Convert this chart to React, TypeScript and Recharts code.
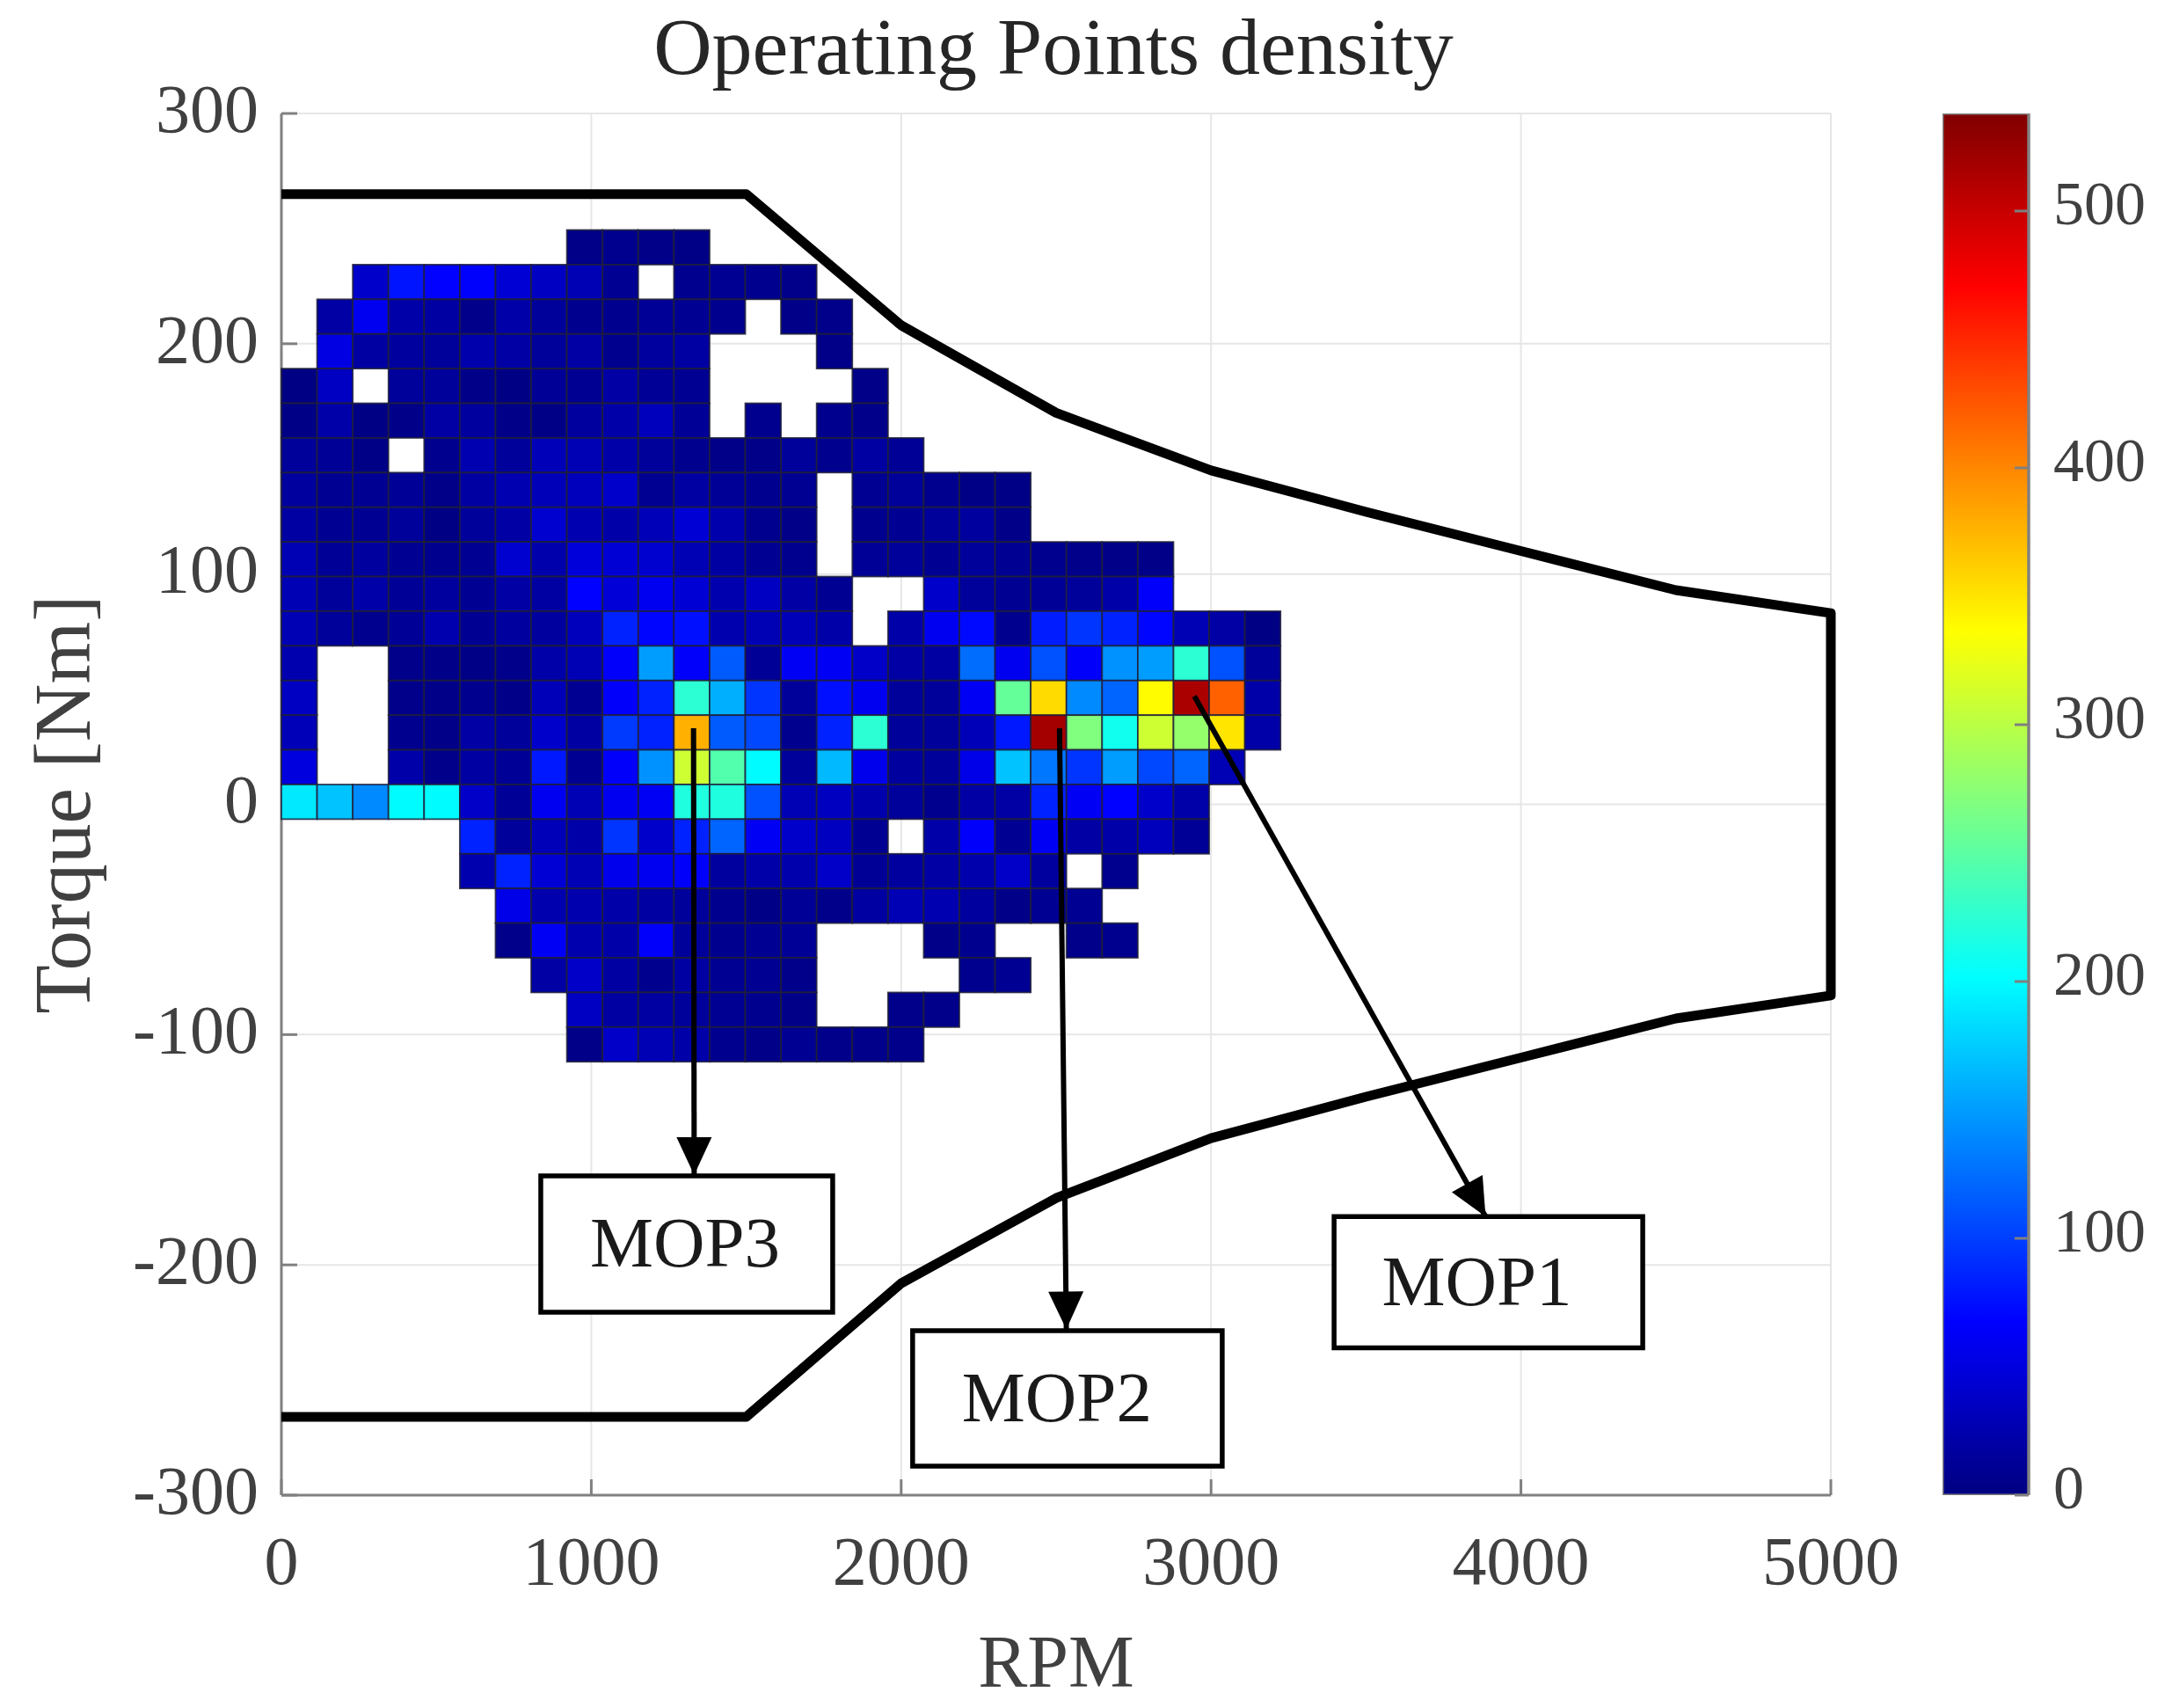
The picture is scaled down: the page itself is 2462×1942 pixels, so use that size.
import React from 'react';
import { ComposedChart, Scatter, Line, Bar, XAxis, YAxis, CartesianGrid, ReferenceArea } from 'recharts';

const _ = null;
const row00 = [_,_,_,_,_,_,_,_,5,8,5,4];
const row01 = [_,_,40,78,68,66,45,35,28,10,_,8,10,8,6];
const row02 = [_,20,60,22,18,6,22,14,8,8,12,10,8,_,5,6];
const row03 = [_,52,18,16,14,24,20,14,20,8,16,18,_,_,_,5];
const row04 = [3,35,_,14,14,5,3,12,10,20,12,10,_,_,_,_,5];
const row05 = [4,22,3,5,20,16,5,4,16,22,32,12,_,8,_,8,6];
const row06 = [14,12,4,_,8,26,14,30,28,22,14,8,5,5,14,8,18,12];
const row07 = [16,10,10,12,5,18,26,30,32,40,10,18,12,8,10,_,10,14,8,4,4];
const row08 = [18,10,10,14,3,14,20,42,26,22,30,45,24,8,5,_,8,10,14,16,5];
const row09 = [28,12,16,10,8,10,42,24,48,45,42,28,18,10,8,_,12,14,10,14,10,8,6,5,5];
const row10 = [28,14,22,12,16,10,20,18,68,46,60,45,25,35,20,10,_,_,40,14,10,12,14,22,65];
const row11 = [28,14,8,12,25,10,16,16,32,85,70,75,25,28,30,22,_,22,60,72,8,82,95,85,70,28,20,3];
const row12 = [25,_,_,6,5,4,6,22,28,65,150,65,115,12,62,62,38,20,18,125,60,110,65,145,150,225,110,14];
const row13 = [35,_,_,6,5,8,5,30,10,65,85,225,160,95,14,75,60,14,14,62,255,355,140,120,338,515,420,22];
const row14 = [30,_,_,8,5,20,14,40,18,98,85,378,115,105,8,85,225,14,14,30,80,518,270,210,310,280,350,22];
const row15 = [50,_,_,22,6,18,12,80,10,65,145,310,245,200,14,165,58,16,14,55,170,130,95,150,105,120,28];
const row16 = [190,170,140,200,200,38,12,60,28,60,62,218,218,110,28,34,24,14,8,20,20,85,62,68,40,22];
const row17 = [_,_,_,_,_,85,14,30,22,95,40,85,120,62,40,34,10,_,22,65,10,62,20,22,32,12];
const row18 = [_,_,_,_,_,25,85,45,28,58,60,65,16,22,24,38,12,16,20,24,38,16,_,8];
const row19 = [_,_,_,_,_,_,55,25,25,22,18,14,8,4,12,6,18,28,26,16,5,10,10];
const row20 = [_,_,_,_,_,_,6,62,25,22,65,14,8,10,12,_,_,_,5,8,_,_,6,8];
const row21 = [_,_,_,_,_,_,_,20,38,18,8,18,10,10,6,_,_,_,_,8,10];
const row22 = [_,_,_,_,_,_,_,_,35,18,18,14,10,8,5,_,_,6,6];
const row23 = [_,_,_,_,_,_,_,_,5,38,28,22,8,5,10,6,6,6];
const densityRows = [row00,row01,row02,row03,row04,row05,row06,row07,row08,row09,row10,row11,row12,row13,row14,row15,row16,row17,row18,row19,row20,row21,row22,row23];

const binRpm = 115.15;
const binNm = 15.05;
const firstTopNm = 249.4;
const colorMax = 538;

const envelopeRpm = [0,1500,2000,2500,3000,3500,4000,4500,5000,5000,4500,4000,3500,3000,2500,2000,1500,0];
const envelopeNm = [265,265,208,170,145,127,110,93,83,-83,-93,-110,-127,-145,-171,-208,-266,-266];

const rpmTicks = [0,1000,2000,3000,4000,5000];
const nmTicks = [-300,-200,-100,0,100,200,300];
const colorTicks = [0,100,200,300,400,500];

const arrows = [
  [{ x: 2946, y: 47 }, { x: 3886, y: -179 }],
  [{ x: 2511, y: 33 }, { x: 2533, y: -228 }],
  [{ x: 1330, y: 33 }, { x: 1332, y: -161 }],
];
const boxes = [
  { name: 'MOP1', x1: 3397, x2: 4393, y1: -236, y2: -179, dx: -13 },
  { name: 'MOP2', x1: 2037, x2: 3036, y1: -287.4, y2: -228.6, dx: -12 },
  { name: 'MOP3', x1: 837, x2: 1779, y1: -220.6, y2: -161.4, dx: -2 },
];

const W = 2462, H = 1942, LEFT = 320, RIGHT = 2082, TOP = 129, BOTTOM = 1700;
const pxX = (RIGHT - LEFT) / 5000;
const pxY = (BOTTOM - TOP) / 600;
const SERIF = '"Liberation Serif", serif';
const X_TICK = { fontFamily: SERIF, fontSize: 78, fill: '#404040' };
const Y_TICK = { fontFamily: SERIF, fontSize: 78, fill: '#404040', dy: -7 };
const BAR_TICK = { fontFamily: SERIF, fontSize: 70, fill: '#404040', dy: -10 };
const AXIS = '#808080';
const noLabel = () => '';

function jet(v: number) {
  const t = Math.max(0, Math.min(1, v / colorMax));
  const f = (x: number) => Math.round(255 * Math.max(0, Math.min(1, x)));
  const r = f(Math.min(4 * t - 1.5, -4 * t + 4.5));
  const g = f(Math.min(4 * t - 0.5, -4 * t + 3.5));
  const b = f(Math.min(4 * t + 0.5, -4 * t + 2.5));
  return `rgb(${r},${g},${b})`;
}

const cells = densityRows.flatMap((row, r) =>
  row.flatMap((value, c) =>
    value === null ? [] : [{ x: (c + 0.5) * binRpm, y: firstTopNm - (r + 0.5) * binNm, value }]
  )
);
const envelope = envelopeRpm.map((x, i) => ({ x, y: envelopeNm[i] }));
const jetStops = Array.from({ length: 33 }, (_v, i) => i / 32);

function CellShape(props: any) {
  const w = binRpm * pxX;
  const h = binNm * pxY;
  return (
    <rect x={props.cx - w / 2} y={props.cy - h / 2} width={w} height={h}
      fill={jet(props.payload.value)} stroke="#20203a" strokeWidth={1.8} strokeOpacity={0.85} />
  );
}

function ArrowHead(props: any) {
  if (props.index !== 1) return <g key={props.index} />;
  const a = props.points[0];
  const b = props.points[1];
  const ang = (Math.atan2(b.y - a.y, b.x - a.x) * 180) / Math.PI;
  return (
    <polygon key={props.index} points="0,0 -43,-20 -43,20" fill="#000"
      transform={`translate(${b.x},${b.y}) rotate(${ang})`} />
  );
}

export default function App() {
  return (
    <div style={{ position: 'absolute', left: 0, top: 0, width: W, height: H, background: '#fff' }}>
      <div style={{ position: 'absolute', left: 0, top: 0 }}>
        <ComposedChart width={W} height={H} margin={{ top: TOP, left: 0, right: W - RIGHT, bottom: 0 }}>
          <XAxis xAxisId="b" dataKey="x" type="number" domain={[0, 5000]} ticks={rpmTicks}
            height={H - BOTTOM} tickSize={-18} tickMargin={64} tick={X_TICK} stroke={AXIS} strokeWidth={3} interval={0}
            label={{ value: 'RPM', position: 'insideBottom', offset: 24, style: { fontFamily: SERIF, fontSize: 84, fill: '#404040' } }} />
          <XAxis xAxisId="t" dataKey="x" orientation="top" type="number" domain={[0, 5000]} ticks={rpmTicks}
            height={0} tickSize={-18} tickFormatter={noLabel} stroke={AXIS} strokeWidth={3} interval={0} />
          <YAxis yAxisId="l" dataKey="y" type="number" domain={[-300, 300]} ticks={nmTicks}
            width={LEFT} tickSize={-18} tickMargin={44} tick={Y_TICK} stroke={AXIS} strokeWidth={3} interval={0}
            label={{ value: 'Torque [Nm]', angle: -90, position: 'insideLeft', offset: 70, style: { textAnchor: 'middle', fontFamily: SERIF, fontSize: 91, fill: '#404040' } }} />
          <YAxis yAxisId="r" dataKey="y" orientation="right" type="number" domain={[-300, 300]} ticks={nmTicks}
            width={0} tickSize={-18} tickFormatter={noLabel} stroke={AXIS} strokeWidth={3} interval={0} />
          <CartesianGrid xAxisId="b" yAxisId="l" stroke="#e6e6e6" strokeWidth={2} />
          <Scatter xAxisId="b" yAxisId="l" data={cells} dataKey="y" shape={CellShape} isAnimationActive={false} />
          <Line xAxisId="b" yAxisId="l" data={envelope} dataKey="y" type="linear" stroke="#000" strokeWidth={11}
            dot={false} activeDot={false} isAnimationActive={false} strokeLinejoin="round" zIndex={700} />
          {arrows.map((pts, i) => (
            <Line key={i} xAxisId="b" yAxisId="l" data={pts} dataKey="y" type="linear" stroke="#000" strokeWidth={6}
              dot={ArrowHead} activeDot={false} isAnimationActive={false} zIndex={700} />
          ))}
          {boxes.map((b) => (
            <ReferenceArea key={b.name} xAxisId="b" yAxisId="l" x1={b.x1} x2={b.x2} y1={b.y1} y2={b.y2}
              fill="#fff" fillOpacity={1} stroke="#000" strokeWidth={5.5} ifOverflow="visible"
              label={{ value: b.name, position: 'center', dx: b.dx, dy: -3, style: { fontFamily: SERIF, fontSize: 81, fill: '#1a1a1a' } }} />
          ))}
        </ComposedChart>
      </div>
      <div style={{ position: 'absolute', left: 2209, top: 0 }}>
        <ComposedChart width={253} height={H} data={[{ name: 'density', v: colorMax }]} barCategoryGap={0}
          margin={{ top: TOP, left: 0, right: 0, bottom: H - BOTTOM }}>
          <defs>
            <linearGradient id="jetBar" x1="0" y1="1" x2="0" y2="0">
              {jetStops.map((t) => <stop key={t} offset={t} stopColor={jet(t * colorMax)} />)}
            </linearGradient>
          </defs>
          <XAxis dataKey="name" hide />
          <YAxis orientation="right" type="number" domain={[0, colorMax]} ticks={colorTicks} allowDataOverflow
            width={155} tickSize={-16} tickMargin={44} tick={BAR_TICK} stroke={AXIS} strokeWidth={3} interval={0} />
          <Bar dataKey="v" fill="url(#jetBar)" stroke={AXIS} strokeWidth={3} isAnimationActive={false} />
        </ComposedChart>
      </div>
      <div style={{ position: 'absolute', left: 0, top: 0, width: 2396, textAlign: 'center', fontFamily: SERIF, fontSize: 92, lineHeight: '106px', color: '#262626' }}>
        Operating Points density
      </div>
    </div>
  );
}
